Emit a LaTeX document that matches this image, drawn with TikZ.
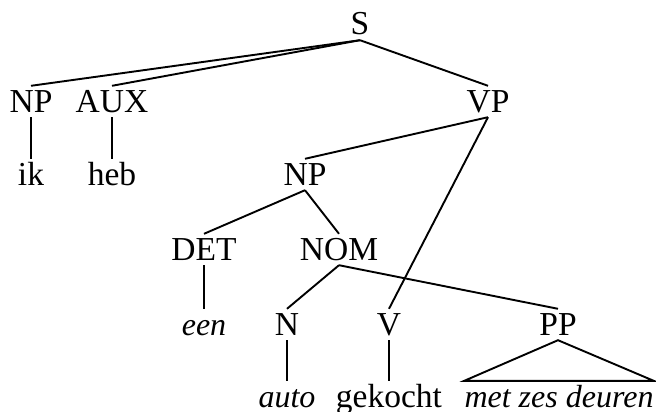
\documentclass[tikz,border=0pt]{standalone}
\usepackage{fontspec}
\setmainfont{Liberation Serif}
\usepackage{tikz}
\tikzset{
cat/.style={
 anchor=base,
 inner xsep=0pt,
 inner ysep=4pt,
 text height=22pt,
 text depth=1pt,
 font=\fontsize{33.5}{38}\selectfont
 },
woord/.style={
 cat,
 font=\fontsize{32}{38}\selectfont\itshape
 },
tak/.style={
 draw=black,
 line width=1.9pt
 }
}
\begin{document}
\begin{tikzpicture}[x=1pt,y=-1pt]
\useasboundingbox (0,0) rectangle (656,412);
\node[cat] (S) at (360,35) {S};
\node[cat] (NPa) at (31,112) {NP};
\node[cat] (AUX) at (112,112) {AUX};
\node[cat] (VP) at (488,112) {VP};
\node[cat] (ik) at (31,185) {ik};
\node[cat] (heb) at (112,185) {heb};
\node[cat] (NPb) at (305,185) {NP};
\node[cat] (DET) at (204,260) {DET};
\node[cat] (NOM) at (339,260) {NOM};
\node[woord] (een) at (204,335) {een};
\node[cat] (N) at (287,335) {N};
\node[cat] (V) at (389,335) {V};
\node[cat] (PP) at (558,335) {PP};
\node[woord] (auto) at (287,407) {auto};
\node[cat] (gekocht) at (389,407) {gekocht};
\node[woord] (mzd) at (559,407) {met zes deuren};
\draw[tak] (S.south) -- (NPa.north);
\draw[tak] (S.south) -- (AUX.north);
\draw[tak] (S.south) -- (VP.north);
\draw[tak] (NPa.south) -- (ik.north);
\draw[tak] (AUX.south) -- (heb.north);
\draw[tak] (VP.south) -- (NPb.north);
\draw[tak] (VP.south) -- (V.north);
\draw[tak] (NPb.south) -- (DET.north);
\draw[tak] (NPb.south) -- (NOM.north);
\draw[tak] (DET.south) -- (een.north);
\draw[tak] (NOM.south) -- (N.north);
\draw[tak] (NOM.south) -- (PP.north);
\draw[tak] (N.south) -- (auto.north);
\draw[tak] (V.south) -- (gekocht.north);
\draw[tak] (PP.south) -- (mzd.north west) -- (mzd.north east) -- cycle;
\end{tikzpicture}
\end{document}
